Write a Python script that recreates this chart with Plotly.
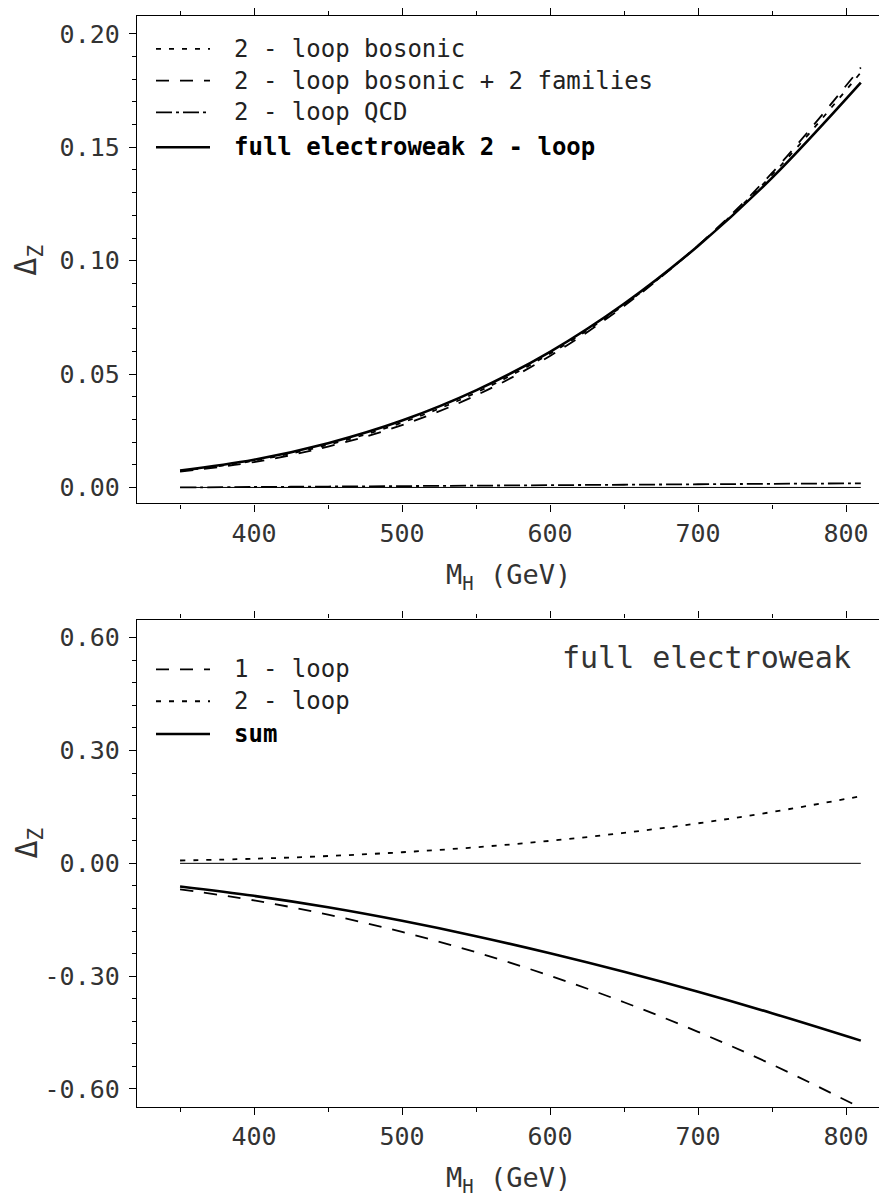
import plotly.graph_objects as go

# ---------------- data ----------------
mh = [350, 400, 450, 500, 550, 600, 650, 700, 750, 810]

# upper panel
two_loop_bosonic = [0.0072, 0.0118, 0.0188, 0.0286, 0.0418, 0.0590, 0.0805, 0.1066, 0.1378, 0.1830]
two_loop_bos_fam = [0.0070, 0.0112, 0.0180, 0.0275, 0.0406, 0.0580, 0.0800, 0.1067, 0.1387, 0.1852]
two_loop_qcd     = [0.0000, 0.0002, 0.0004, 0.0006, 0.0008, 0.0010, 0.0012, 0.0014, 0.0016, 0.0018]
full_ew_2loop    = [0.0075, 0.0122, 0.0195, 0.0295, 0.0428, 0.0598, 0.0810, 0.1065, 0.1365, 0.1785]

# lower panel
one_loop = [-0.069, -0.0986, -0.1364, -0.1824, -0.2365, -0.2989, -0.3694, -0.448, -0.535, -0.650]
two_loop = full_ew_2loop
total    = [-0.0615, -0.0864, -0.1169, -0.1529, -0.1937, -0.2391, -0.2884, -0.3415, -0.3985, -0.4715]

zero_x = [350, 810]
zero_y = [0.0, 0.0]

x_ticks = [400, 500, 600, 700, 800]
x_labels = ["400", "500", "600", "700", "800"]
y1_ticks = [0.0, 0.05, 0.10, 0.15, 0.20]
y1_labels = ["0.00", "0.05", "0.10", "0.15", "0.20"]
y2_ticks = [-0.60, -0.30, 0.0, 0.30, 0.60]
y2_labels = ["-0.60", "-0.30", "0.00", "0.30", "0.60"]

top_names = ["2 - loop bosonic", "2 - loop bosonic + 2 families", "2 - loop QCD",
             "<b>full electroweak 2 - loop</b>"]
bot_names = ["1 - loop", "2 - loop", "<b>sum</b>"]

# ---------------- styling ----------------
FONT = "DejaVu Sans Mono"
OFF = 8                      # page body margin
W, H = 887 - OFF, 1199 - OFF
L, R, T, B = 137 - OFF, 0, 10 - OFF, 92
PW, PH = W - L - R, H - T - B
TXT = "#333"

DOT = "5px,8px"
DASH = "13px,11px"
DASHDOT = "16px,4px,3px,4px"


def py(ypix):
    return (H - B - (ypix - OFF)) / PH


def px(xpix):
    return (xpix - OFF - L) / PW


fig = go.Figure()

top_series = [
    (two_loop_bosonic, DOT, 1.8),
    (two_loop_bos_fam, DASH, 1.8),
    (two_loop_qcd, DASHDOT, 1.8),
    (full_ew_2loop, "solid", 2.6),
]
for (ys, dash, w), name in zip(top_series, top_names):
    fig.add_trace(go.Scatter(x=mh, y=ys, mode="lines", name=name, showlegend=False,
                             line=dict(color="black", width=w, dash=dash, shape="spline"),
                             xaxis="x", yaxis="y"))
fig.add_trace(go.Scatter(x=zero_x, y=zero_y, mode="lines", showlegend=False,
                         line=dict(color="black", width=1.0), xaxis="x", yaxis="y"))

bot_series = [
    (one_loop, DASH, 1.8),
    (two_loop, DOT, 1.8),
    (total, "solid", 2.6),
]
for (ys, dash, w), name in zip(bot_series, bot_names):
    fig.add_trace(go.Scatter(x=mh, y=ys, mode="lines", name=name, showlegend=False,
                             line=dict(color="black", width=w, dash=dash, shape="spline"),
                             xaxis="x2", yaxis="y2"))
fig.add_trace(go.Scatter(x=zero_x, y=zero_y, mode="lines", showlegend=False,
                         line=dict(color="black", width=1.0), xaxis="x2", yaxis="y2"))

tickfont = dict(family=FONT, size=25, color=TXT)
xrange = [320.9, 827.7]
top_dom = [py(500), 1.0]
bot_dom = [0.0, py(617)]


def xaxis(anchor):
    return dict(range=xrange, anchor=anchor, domain=[0, 1], showgrid=False, zeroline=False,
                showline=True, linecolor="black", linewidth=1.4, mirror="allticks",
                ticks="outside", ticklen=7, tickwidth=1.4, tickcolor="black",
                tickmode="array", tickvals=x_ticks, ticktext=x_labels, tickfont=tickfont,
                minor=dict(tickmode="linear", tick0=0, dtick=50, ticks="outside",
                           ticklen=4, tickwidth=1.4, tickcolor="black"))


def yaxis(anchor, rng, dom, tv, tt, mdt):
    return dict(range=rng, anchor=anchor, domain=dom, showgrid=False, zeroline=False,
                showline=True, linecolor="black", linewidth=1.4, mirror=False,
                ticks="outside", ticklen=7, tickwidth=1.4, tickcolor="black",
                tickmode="array", tickvals=tv, ticktext=tt, tickfont=tickfont,
                ticklabelstandoff=4,
                minor=dict(tickmode="linear", tick0=0, dtick=mdt, ticks="outside",
                           ticklen=4, tickwidth=1.4, tickcolor="black"))


fig.update_layout(
    width=W, height=H, margin=dict(l=L, r=R, t=T, b=B),
    paper_bgcolor="white", plot_bgcolor="white",
    font=dict(family=FONT, color="black"),
    xaxis=xaxis("y"),
    yaxis=yaxis("x", [-0.007, 0.2079], top_dom, y1_ticks, y1_labels, 0.01),
    xaxis2=xaxis("y2"),
    yaxis2=yaxis("x2", [-0.648, 0.648], bot_dom, y2_ticks, y2_labels, 0.06),
)

# legends (drawn as sample lines + text)
shapes = []
annos = []
top_rows = [43, 75, 107, 142]
top_styles = [(DOT, 1.8), (DASH, 1.8), (DASHDOT, 1.8), ("solid", 2.6)]
for yp, (dash, w), name in zip(top_rows, top_styles, top_names):
    shapes.append(dict(type="line", xref="paper", yref="paper", x0=px(156), x1=px(210),
                       y0=py(yp), y1=py(yp), line=dict(color="black", width=w, dash=dash)))
    annos.append(dict(text=name, xref="paper", yref="paper", x=px(232), y=py(yp),
                      xanchor="left", yanchor="middle", showarrow=False,
                      font=dict(family=FONT, size=24,
                                color="black" if name.startswith("<b>") else "#222")))
bot_rows = [667, 699, 732]
bot_styles = [(DASH, 1.8), (DOT, 1.8), ("solid", 2.6)]
for yp, (dash, w), name in zip(bot_rows, bot_styles, bot_names):
    shapes.append(dict(type="line", xref="paper", yref="paper", x0=px(156), x1=px(210),
                       y0=py(yp), y1=py(yp), line=dict(color="black", width=w, dash=dash)))
    annos.append(dict(text=name, xref="paper", yref="paper", x=px(232), y=py(yp),
                      xanchor="left", yanchor="middle", showarrow=False,
                      font=dict(family=FONT, size=24,
                                color="black" if name.startswith("<b>") else "#222")))

annos.append(dict(text="full electroweak", xref="paper", yref="paper", x=px(560), y=py(655),
                  xanchor="left", yanchor="middle", showarrow=False,
                  font=dict(family=FONT, size=30, color=TXT)))

# axis titles
for yp in (574, 1180):
    annos.append(dict(text="M<sub>H</sub> (GeV)", xref="paper", yref="paper", x=px(508), y=py(yp),
                      xanchor="center", yanchor="middle", showarrow=False,
                      font=dict(family=FONT, size=27, color=TXT)))
for yp in (256, 842):
    annos.append(dict(text="Δ<sub>Z</sub>", xref="paper", yref="paper", x=px(28), y=py(yp),
                      xanchor="center", yanchor="middle", showarrow=False, textangle=-90,
                      font=dict(family=FONT, size=30, color=TXT)))

fig.update_layout(shapes=shapes, annotations=annos)

fig.write_html("out.html")
